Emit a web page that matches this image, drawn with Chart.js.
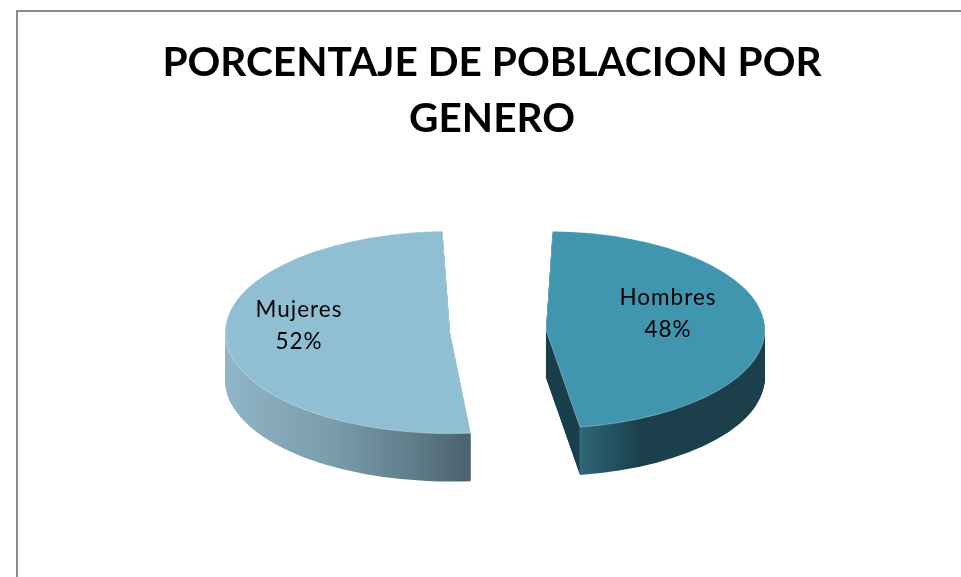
<!DOCTYPE html>
<html>
<head>
<meta charset="utf-8">
<script src="https://cdn.jsdelivr.net/npm/chart.js@4"></script>
<style>
html,body{margin:0;padding:0;background:#fff;overflow:hidden}
#frame{position:absolute;left:16px;top:10px;width:960px;height:580px;border-left:2px solid #8c8c8c;border-top:2px solid #8c8c8c;box-sizing:border-box}
canvas{position:absolute;left:0;top:0}
</style>
</head>
<body>
<div id="frame"></div>
<canvas id="c" width="961" height="577"></canvas>
<script>
const titleLines = ['PORCENTAJE DE POBLACION POR', 'GENERO'];
const categories = ['Hombres', 'Mujeres'];
const percentages = [48, 52];
const topColors = ['#4095AF', '#90BFD3'];

const TILT = 0.45, DEPTH = 48, CX = 498, CY = 331, EXPLODE = 48, LABEL_FONT = '22.5px Lato, "Open Sans", sans-serif';
const labelAnchors = [[668, 298], [299, 310]];
const sideStops = [
  [[545,'#1a3f4c'],[579,'#1a3f4c'],[580,'#2f6879'],[640,'#1b3f4b'],[766,'#1b3f4b']],
  [[226,'#8fb5c6'],[330,'#7b9dac'],[420,'#5d7a87'],[470,'#4a626d']]
];

const tilt3d = {
  id: 'tilt3d',
  beforeDatasetDraw(chart, args) {
    const ctx = chart.ctx, arcs = args.meta.data;
    const ax = arcs[0].x, ay = arcs[0].y;
    ctx.save();
    ctx.translate(CX, CY);
    ctx.scale(1, TILT);
    ctx.translate(-ax, -ay);
    const grads = arcs.map((arc, i) => {
      const mid = (arc.startAngle + arc.endAngle) / 2;
      const dx = Math.sign(Math.cos(mid)) * EXPLODE;
      const toLocal = sx => sx - CX + ax - dx;
      const stops = sideStops[i];
      const x0 = stops[0][0], x1 = stops[stops.length - 1][0];
      const g = ctx.createLinearGradient(toLocal(x0), 0, toLocal(x1), 0);
      stops.forEach(s => g.addColorStop((s[0] - x0) / (x1 - x0), s[1]));
      return g;
    });
    for (let d = DEPTH; d >= 1; d--) {
      ctx.save();
      ctx.translate(0, d / TILT);
      arcs.forEach((arc, i) => {
        const o = arc.options;
        arc.options = Object.assign(Object.create(o), {backgroundColor: grads[i], borderWidth: 0});
        arc.draw(ctx);
        arc.options = o;
      });
      ctx.restore();
    }
  },
  afterDatasetDraw(chart) {
    const ctx = chart.ctx;
    ctx.restore();
    ctx.save();
    ctx.font = LABEL_FONT;
    ctx.fillStyle = '#000';
    ctx.textAlign = 'center';
    ctx.textBaseline = 'middle';
    if ('letterSpacing' in ctx) ctx.letterSpacing = '1px';
    categories.forEach((name, i) => {
      const [x, y] = labelAnchors[i];
      ctx.fillText(name, x, y);
      ctx.fillText(percentages[i] + '%', x, y + 32);
    });
    ctx.restore();
  }
};

new Chart(document.getElementById('c'), {
  type: 'pie',
  data: {
    labels: categories,
    datasets: [{
      data: percentages,
      backgroundColor: topColors,
      borderWidth: 1,
      borderColor: 'rgba(255,255,255,0.45)',
      offset: EXPLODE * 4,
      radius: 177,
      clip: false
    }]
  },
  options: {
    responsive: false,
    animation: false,
    layout: {padding: {left: 23, top: 34}},
    plugins: {
      legend: {display: false},
      tooltip: {enabled: false},
      title: {
        display: true,
        text: titleLines,
        color: '#000',
        font: {family: 'Lato, "Open Sans", sans-serif', size: 40.6, weight: 'bold', lineHeight: 1.4},
        padding: 0
      }
    }
  },
  plugins: [tilt3d]
});
</script>
</body>
</html>
